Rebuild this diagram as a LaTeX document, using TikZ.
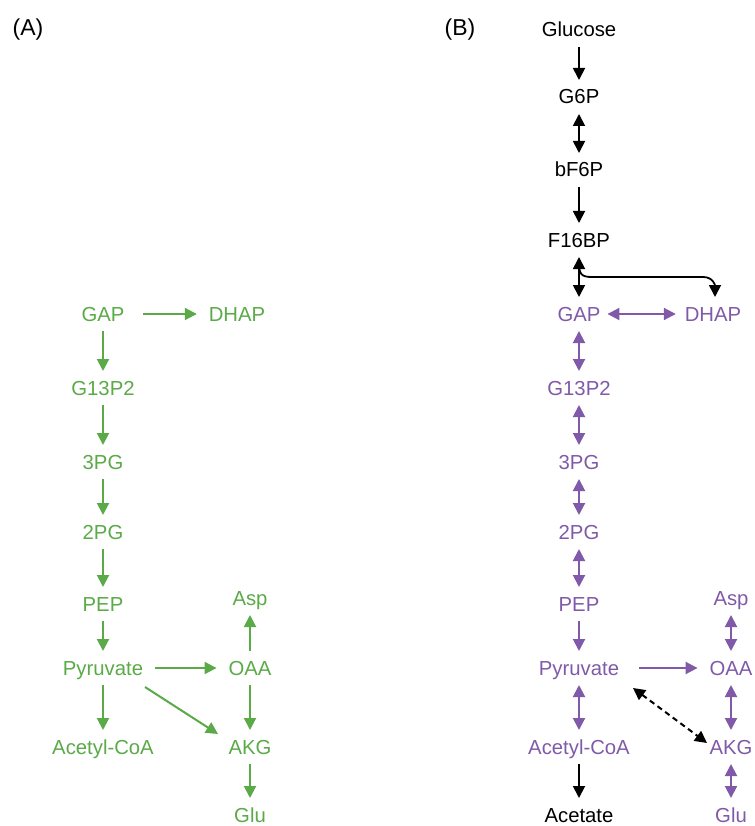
\documentclass[tikz,border=0pt]{standalone}
\usepackage{fontspec}
\setmainfont{Liberation Sans}
\usetikzlibrary{arrows.meta,calc}
\definecolor{pgreen}{RGB}{90,170,72}
\definecolor{ppurple}{RGB}{128,90,168}
\tikzset{
  met/.style={font=\fontsize{20.3}{24}\selectfont, text height=14pt, text depth=0pt,
              inner xsep=12pt, inner ysep=10pt, outer sep=0pt},
  gm/.style={met, text=pgreen},
  pm/.style={met, text=ppurple},
  bm/.style={met, text=black},
  panel/.style={font=\fontsize{23}{27}\selectfont, text=black, inner sep=0pt},
  >={Triangle[length=12pt,width=12pt]},
  garr/.style={draw=pgreen, line width=2pt},
  parr/.style={draw=ppurple, line width=2pt},
  karr/.style={draw=black, line width=1.8pt},
  dotarr/.style={draw=black, line width=2pt, dash pattern=on 5.5pt off 4pt},
}
\begin{document}
\begin{tikzpicture}[x=1pt, y=-1pt]
\useasboundingbox (0,0) rectangle (754,826);
\clip (0,0) rectangle (754,826);

% panel labels
\node[panel] (labA) at (28,30) {(A)};
\node[panel] (labB) at (460,30) {(B)};

% ---------- Panel A ----------
\node[gm] (gapA)  at (103,314) {GAP};
\node[gm] (dhapA) at (237,314) {DHAP};
\node[gm] (g13A)  at (103,388) {G13P2};
\node[gm] (pg3A)  at (103,462) {3PG};
\node[gm] (pg2A)  at (103,532) {2PG};
\node[gm] (pepA)  at (103,604) {PEP};
\node[gm] (pyrA)  at (103,668) {Pyruvate};
\node[gm] (acoaA) at (103,747) {Acetyl-CoA};
\node[gm] (aspA)  at (250,598) {Asp};
\node[gm] (oaaA)  at (250,668) {OAA};
\node[gm] (akgA)  at (250,747) {AKG};
\node[gm] (gluA)  at (250,815) {Glu};

\draw[garr,->,shorten <=7pt] (gapA) -- (dhapA);
\draw[garr,->] (gapA) -- (g13A);
\draw[garr,->] (g13A) -- (pg3A);
\draw[garr,->] (pg3A) -- (pg2A);
\draw[garr,->] (pg2A) -- (pepA);
\draw[garr,->] (pepA) -- (pyrA);
\draw[garr,->] (pyrA) -- (acoaA);
\draw[garr,->] (pyrA) -- (oaaA);
\draw[garr,->] (oaaA) -- (aspA);
\draw[garr,->] (oaaA) -- (akgA);
\draw[garr,->] (akgA) -- (gluA);
\draw[garr,->] ($(pyrA.center)+(42,19)$) -- ($(akgA.center)+(-32,-13)$);

% ---------- Panel B ----------
\node[bm] (glc)   at (579,30)  {Glucose};
\node[bm] (g6p)   at (579,97)  {G6P};
\node[bm] (f6p)   at (579,170) {bF6P};
\node[bm] (f16)   at (579,240) {F16BP};
\node[pm] (gapB)  at (579,314) {GAP};
\node[pm] (dhapB) at (713,314) {DHAP};
\node[pm] (g13B)  at (579,388) {G13P2};
\node[pm] (pg3B)  at (579,462) {3PG};
\node[pm] (pg2B)  at (579,532) {2PG};
\node[pm] (pepB)  at (579,604) {PEP};
\node[pm] (pyrB)  at (579,668) {Pyruvate};
\node[pm] (acoaB) at (579,747) {Acetyl-CoA};
\node[bm] (acet)  at (579,815) {Acetate};
\node[pm] (aspB)  at (731,598) {Asp};
\node[pm] (oaaB)  at (731,668) {OAA};
\node[pm] (akgB)  at (731,747) {AKG};
\node[pm] (gluB)  at (731,815) {Glu};

\draw[karr,->]  (glc) -- (g6p);
\draw[karr,<->] (g6p) -- (f6p);
\draw[karr,->]  (f6p) -- (f16);
\draw[karr,<->] (f16) -- (gapB);
\coordinate (fork) at ([yshift=-5pt]f16.south);
\coordinate (dend) at ([xshift=2pt]dhapB.north);
\draw[karr,->] (fork) .. controls ([yshift=-12pt]fork) and ([xshift=2pt,yshift=-15pt]fork) .. ([xshift=13pt,yshift=-15pt]fork)
  -- ([xshift=-12pt,yshift=20pt]dend) .. controls ([xshift=-2pt,yshift=20pt]dend) and ([yshift=12pt]dend) .. (dend);
\draw[parr,<->,shorten <=-5pt,shorten >=-3pt] (gapB) -- (dhapB);
\draw[parr,<->] (gapB) -- (g13B);
\draw[parr,<->] (g13B) -- (pg3B);
\draw[parr,<->] (pg3B) -- (pg2B);
\draw[parr,<->] (pg2B) -- (pepB);
\draw[parr,->]  (pepB) -- (pyrB);
\draw[parr,<->] (pyrB) -- (acoaB);
\draw[karr,->]  (acoaB) -- (acet);
\draw[parr,->,shorten <=8pt] (pyrB) -- (oaaB);
\draw[parr,<->] (oaaB) -- (aspB);
\draw[parr,<->] (oaaB) -- (akgB);
\draw[parr,<->] (akgB) -- (gluB);
\draw[dotarr,<->] ($(pyrB.center)+(54,20)$) -- ($(akgB.center)+(-24,-4)$);
\end{tikzpicture}
\end{document}
